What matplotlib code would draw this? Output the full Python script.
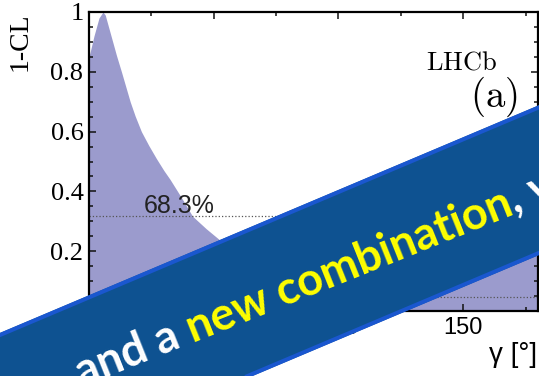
import numpy as np
import matplotlib
matplotlib.use("Agg")
import matplotlib.pyplot as plt
from matplotlib.patches import Polygon
from matplotlib.ticker import MultipleLocator, FixedLocator

plt.rcParams["mathtext.fontset"] = "cm"

# 1-CL scan in gamma
gamma = [0, 2, 4, 5.6, 6.5, 8.5, 11, 13, 16.5, 18.5, 21, 24, 27, 30, 32.5, 37,
         41.5, 47, 52.5, 60, 75, 90, 105, 120, 135, 150, 165, 180]
one_minus_cl = [0.85, 0.92, 0.98, 1.0, 0.99, 0.93, 0.855, 0.80, 0.70, 0.652,
                0.60, 0.553, 0.51, 0.47, 0.44, 0.38, 0.317, 0.275, 0.237, 0.20,
                0.15, 0.12, 0.11, 0.12, 0.15, 0.19, 0.24, 0.28]
cl_levels = [0.317, 0.046]
cl_names = ["68.3%", "95.4%"]
y_ticks = [0.2, 0.4, 0.6, 0.8, 1.0]
y_ticklabels = ["0.2", "0.4", "0.6", "0.8", "1"]
x_ticks = [0, 50, 100, 150]

banner_parts = [("and a ", "white"), ("new combination", "#ffff00"), (", y", "white")]

W, H = 539, 376
fig = plt.figure(figsize=(W / 100, H / 100), dpi=100)
ax = fig.add_axes([89 / W, 1 - 311 / H, (538 - 89) / W, (311 - 12) / H])

ax.fill_between(gamma, one_minus_cl, 0, color="#9b9bcd", lw=0)
for lev, name in zip(cl_levels, cl_names):
    ax.axhline(lev, color="#555555", ls=":", lw=0.9)
    ax.text(22, lev + 0.012, name, fontsize=18, family="Liberation Sans",
            color="#222222")

ax.set_xlim(0, 180)
ax.set_ylim(0, 1)
ax.xaxis.set_major_locator(FixedLocator(x_ticks))
ax.xaxis.set_minor_locator(MultipleLocator(25))
ax.yaxis.set_major_locator(FixedLocator(y_ticks))
ax.yaxis.set_minor_locator(MultipleLocator(0.05))
ax.set_yticklabels(y_ticklabels, family="Liberation Serif", fontsize=19)
ax.set_xticklabels([str(t) for t in x_ticks], family="Liberation Sans", fontsize=17)
ax.tick_params(which="both", direction="in", top=True, right=True, width=1.1,
               color="#111111", pad=4)
ax.tick_params(which="major", length=5)
ax.tick_params(which="minor", length=3)
for sp in ax.spines.values():
    sp.set_linewidth(1.6)

ax.set_ylabel("1-CL", family="Liberation Serif", fontsize=20)
ax.yaxis.set_label_coords(-0.125, 0.90)
ax.set_xlabel("γ [°]", family="Liberation Sans", fontsize=20)
ax.xaxis.set_label_coords(0.997, -0.105)
ax.xaxis.label.set_horizontalalignment("right")

ax.text(0.91, 0.83, r"$\mathrm{LHCb}$", transform=ax.transAxes, ha="right",
        va="center", fontsize=19)
ax.text(0.955, 0.715, r"$\mathrm{(a)}$", transform=ax.transAxes, ha="right",
        va="center", fontsize=28)

# slanted banner across the lower part
ov = fig.add_axes([0, 0, 1, 1], zorder=10)
ov.set_xlim(0, W)
ov.set_ylim(H, 0)
ov.axis("off")

ang = 22.9
s = np.tan(np.radians(ang))
top0, bot0 = 333.0, 482.6
xs = np.array([-50, 600])
ov.add_patch(Polygon([(xs[0], top0 - s * xs[0]), (xs[1], top0 - s * xs[1]),
                      (xs[1], bot0 - s * xs[1]), (xs[0], bot0 - s * xs[0])],
                     closed=True, facecolor="#0e5291", edgecolor="none"))
ov.plot(xs, top0 + 2 - s * xs, color="#1a57cf", lw=2.9, solid_capstyle="butt")
ov.plot(xs, bot0 - 2 - s * xs, color="#1a57cf", lw=2.9, solid_capstyle="butt")

fsize = 32.5
fp = dict(family="Lato", weight="bold", fontsize=fsize)
renderer = fig.canvas.get_renderer()


def text_width(txt):
    t = ov.text(0, 0, txt, **fp)
    w = t.get_window_extent(renderer).width
    t.remove()
    return w


full = ""
offsets = []
for part, _ in banner_parts:
    full += part
    offsets.append(text_width(full.rstrip()) - text_width(part.strip()))

# text runs a little flatter than the banner edges
tang = 21.8
x0, y0 = 193.0, 343.0   # start of "new" on the baseline
ref = offsets[1]
c, sn = np.cos(np.radians(tang)), np.sin(np.radians(tang))
for (part, col), off in zip(banner_parts, offsets):
    d = off - ref
    ov.text(x0 + d * c, y0 - d * sn, part.strip(), color=col, rotation=tang,
            rotation_mode="anchor", ha="left", va="baseline", **fp)

fig.savefig("out.png", dpi=100)
